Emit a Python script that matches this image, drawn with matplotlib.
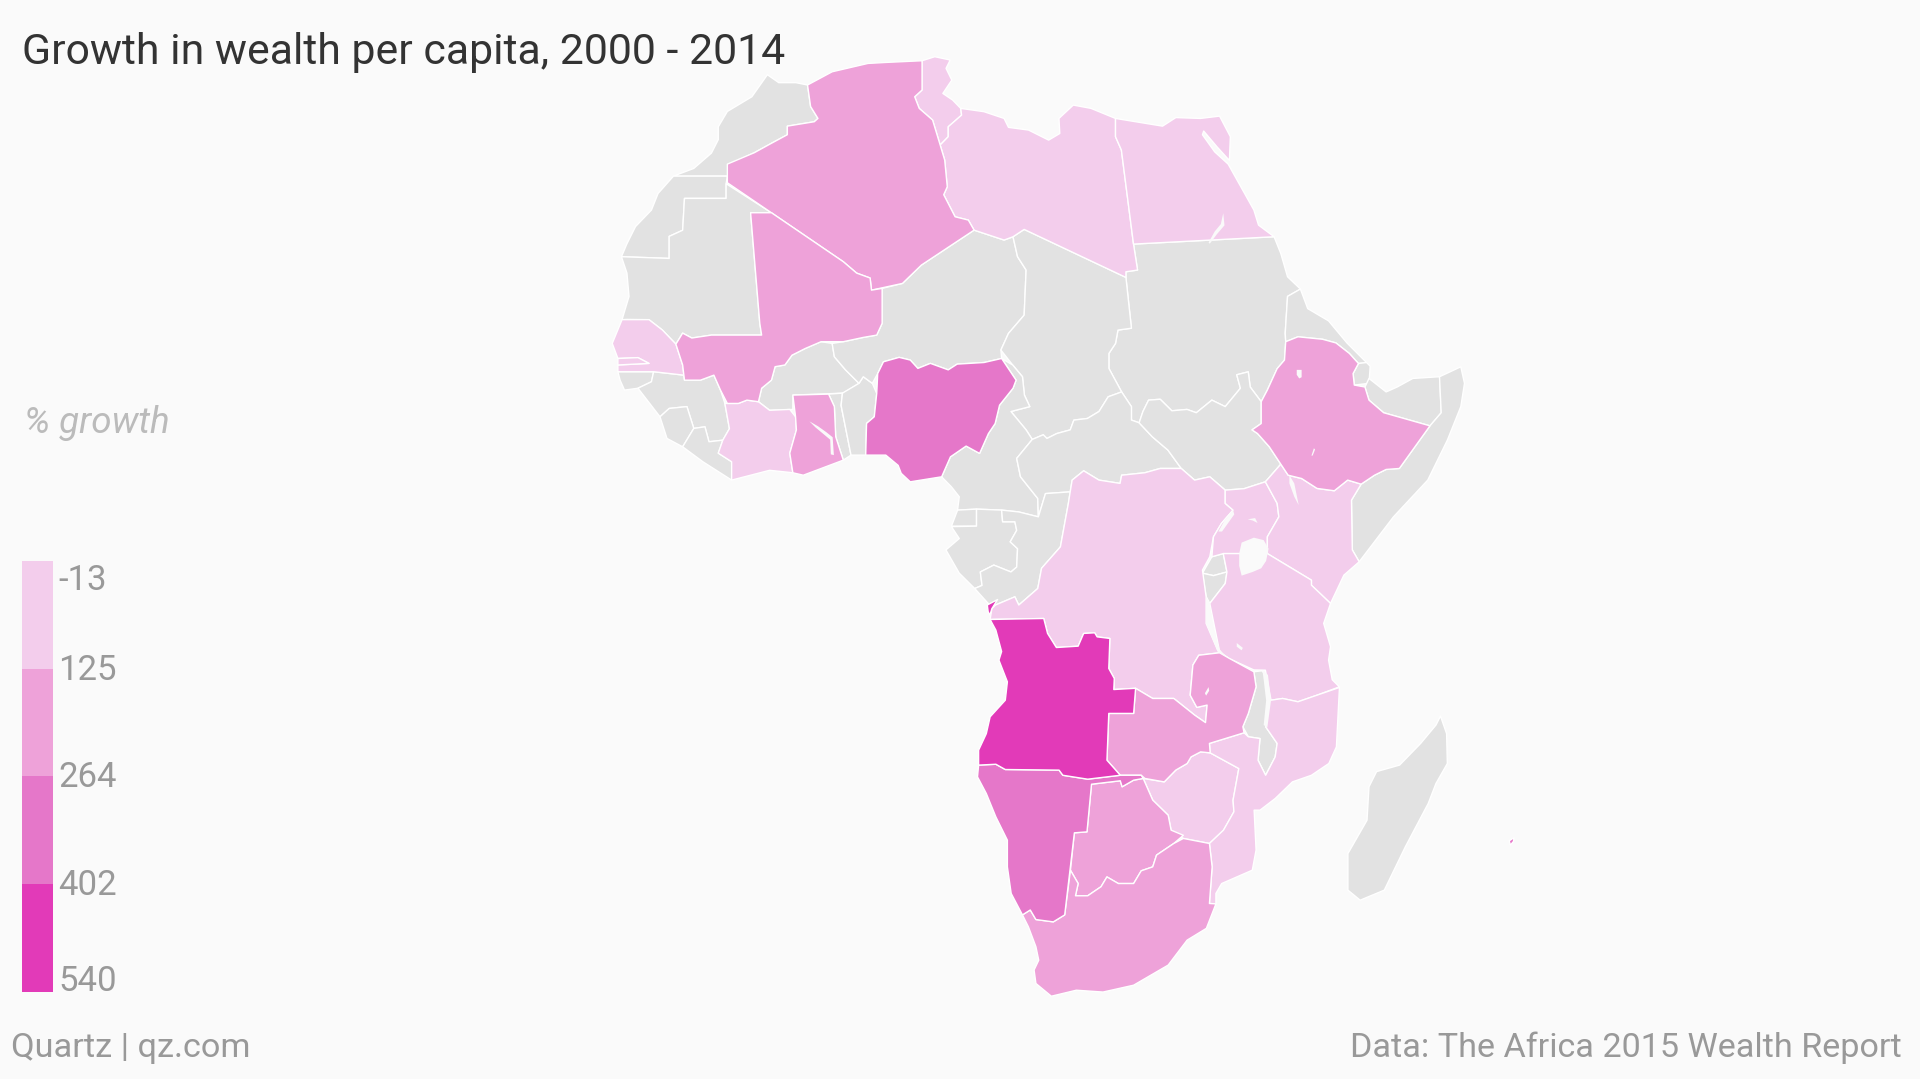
import matplotlib
matplotlib.use('Agg')
import matplotlib.pyplot as plt
from matplotlib.patches import Polygon
from matplotlib.transforms import ScaledTranslation

# outlines are in map units (y grows downward)
morocco = [(659.5,69.4),(662,87),(668,96.7),(665,99.4),(643,103),(643,110),(630,117),(616,124.7),(596,134),(594,143.8),(550,143.8),(566.6,137.5),(581,125),(586.6,114),(586.6,103.5),(594,91),(614,79),(626.7,61),(636,67.5),(650,67.5)]
western_sahara = [(550,143.8),(594,143.8),(593,150),(593,162),(559,162),(557.5,188),(546.5,193),(546.5,211),(507.5,209.6),(512,199),(519,185),(532,171.5),(537.4,158)]
mauritania = [(593,150),(630,173.7),(613,173.7),(620.5,264),(622,273.6),(581,273.6),(565,276),(557.5,272),(552,281),(541,269.5),(530,261),(512,260.8),(508,261),(513.7,242),(512,223),(507.5,209.6),(546.5,211),(546.5,193),(557.5,188),(559,162),(593,162)]
algeria = [(659.5,69.4),(679.6,58.6),(708.8,51.8),(723,51),(753,49.6),(753,73.5),(747,79),(750.7,88.5),(761.6,98),(767.8,118.4),(771.5,130.7),(773.6,152.5),(770.7,159),(780,177),(790.8,179.7),(795.5,187.9),(752.5,216.4),(737,231.4),(711.7,236.9),(710.6,227),(699.6,223),(688.7,213.7),(630,173.7),(594,149.2),(594,134),(616,124.7),(630,117),(643,110),(643,103),(665,99.4),(668,96.7),(662,87)]
mali = [(613,173.7),(630,173.7),(688.7,213.7),(699.6,223),(710.6,227),(711.7,236.9),(720.4,235.5),(720.4,264),(716,273.6),(705,275.5),(688.7,279),(670.5,279),(657.7,284.5),(646.8,290),(641,298),(633,299.4),(630,310.4),(622,317),(619.4,328),(610,326.7),(603,329.4),(594,329.4),(588.4,318.5),(583,306.3),(572,310.4),(559,310.4),(557.5,298),(552,281),(557.5,272),(565,276),(581,273.6),(622,273.6),(620.5,264)]
senegal = [(508,261),(530,261),(541,269.5),(552,281),(557.5,298),(558.5,306.3),(533.8,303.5),(504.6,303.5),(504.6,298),(530,296.7),(521,292),(504.6,292.7),(500,280.4)]
gambia = [(504.6,298),(530,296.7),(521,292),(504.6,292.7)]
guinea_bissau = [(504.6,303.5),(533.8,303.5),(532,311.7),(521,317),(510,318.5),(506.4,310.4)]
guinea = [(533.8,303.5),(558.5,306.3),(559,310.4),(572,310.4),(583,306.3),(588.4,318.5),(592,329.4),(595.7,350),(590.3,359.4),(579,360.7),(575.7,348.5),(566.6,349.8),(561,332),(546.5,333.5),(539,340.3),(521,317),(532,311.7)]
sierra_leone = [(539,340.3),(546.5,333.5),(561,332),(566.6,349.8),(557.5,364.8),(544.7,358)]
liberia = [(557.5,364.8),(566.6,349.8),(575.7,348.5),(579,360.7),(590.3,359.4),(586.6,370),(597.5,377),(597.5,392),(574,377)]
ivory_coast = [(592,329.4),(603,329.4),(610,326.7),(619.4,328),(628.5,335),(645,334.3),(649.7,340.3),(650.4,351),(645,370),(647.5,386),(628.5,384),(597.5,392),(597.5,377),(586.6,370),(590.3,359.4),(595.7,350)]
burkina_faso = [(619.4,328),(622,317),(630,310.4),(633,299.4),(641,298),(646.8,290),(657.7,284.5),(670.5,279),(679.6,280.4),(681.4,291.3),(690.5,302),(701.5,313),(688.7,321),(647.5,322.6),(647.5,334.3),(628.5,335)]
ghana = [(647.5,322.6),(676.7,321.8),(681.4,332),(682.5,356.6),(688.7,375.7),(656,388),(647.5,386),(645,370),(650.4,351),(649.7,340.3)]
togo = [(676.7,321.8),(688,321),(686.9,331),(695,371.6),(688.7,375.7),(682.5,356.6),(681.4,332)]
benin = [(688,321),(701.5,313),(705,307.6),(712.4,313),(716,321.3),(714,340.3),(707.7,345.7),(707,371.6),(695,371.6),(686.9,331)]
nigeria = [(721.5,295.4),(734.3,291.8),(743.4,294),(749.6,300.8),(759.8,296.7),(774.4,302),(781.7,297.3),(803.6,296),(818,292.7),(829.8,310.4),(827.3,317),(816.3,330.8),(812.7,345.8),(807.2,354),(800,370.2),(789,364.2),(776.2,373),(769,389.3),(743.4,393.4),(736,386.5),(733.5,380),(723.4,371.6),(707,371.6),(707.7,345.7),(714,340.3),(716,321.3),(716.8,305)]
niger = [(795.5,187.9),(820,196),(827.3,193.3),(831,209.6),(838,220.5),(836.4,257.3),(823.6,272.2),(817.4,285.8),(818,292.7),(803.6,296),(781.7,297.3),(774.4,302),(759.8,296.7),(749.6,300.8),(743.4,294),(734.3,291.8),(721.5,295.4),(716.8,305),(712.4,313),(705,307.6),(701.5,313),(690.5,302),(681.4,291.3),(679.6,280.4),(688.7,279),(705,275.5),(716,273.6),(720.4,264),(720.4,235.5),(737,231.4),(752.5,216.4)]
tunisia = [(753,49.6),(763.4,46.3),(776,49),(772.6,55.8),(777.3,65.4),(770,76.3),(778,81.7),(784.6,88.5),(785.3,94),(774.4,103.5),(774.4,111.6),(767.8,118.4),(761.6,98),(750.7,88.5),(747,79),(753,73.5)]
libya = [(784.6,88.5),(803.6,91.2),(820,96.7),(823.6,104),(840,106.2),(856.4,114.4),(865.5,109),(864.8,96.7),(876.5,85.8),(891,88.5),(911,96.7),(911,111.6),(915.8,122.5),(925.7,199.3),(929,220.5),(919.5,221.9),(919.5,226.5),(836.4,187.3),(827.3,193.3),(820,196),(795.5,187.9),(790.8,179.7),(780,177),(770.7,159),(773.6,152.5),(771.5,130.7),(767.8,118.4),(774.4,111.6),(774.4,103.5),(785.3,94)]
egypt = [(911,96.7),(949.4,103),(960.3,96),(980.4,96.7),(996,94.8),(1004.8,111.6),(1004,131),(994,120),(983,107),(982,110),(992,124),(1003,134),(1024,171.5),(1027.8,183.8),(1040.5,193.3),(925.7,199.3),(915.8,122.5),(911,111.6)]
sudan = [(925.7,199.3),(1040.5,193.3),(1046,207),(1051.5,226),(1062,236),(1051.5,242),(1049.6,272),(1050,279),(1049,294),(1043,301),(1035,318.5),(1030,328),(1021,316),(1019.4,303.6),(1010,306),(1013,317),(1000.6,332),(989.7,326.7),(977,337),(969.4,334.3),(957,335.4),(947.5,326),(938,326.7),(933.4,336),(930.3,345.2),(924,343),(924,332),(916,320),(905.6,300.8),(905.6,288.6),(911,280.4),(913,269.5),(924,268),(919.5,226.5),(919.5,221.9),(929,220.5)]
eritrea = [(1051.5,242),(1062,236),(1068,252),(1085,262),(1100,280),(1116,296),(1109.4,296.8),(1102,288.6),(1091,280),(1080,277),(1060,275),(1050,279),(1049.6,272)]
ethiopia = [(1050,279),(1060,275),(1080,277),(1091,280),(1102,288.6),(1109.4,296.8),(1105,305),(1106,314.4),(1114.7,316),(1118,326.7),(1130,337),(1167.8,347.7),(1142.8,382.5),(1132,383.3),(1122.5,388),(1111.6,395.3),(1100.6,392),(1089.7,400.7),(1075.6,398.8),(1063,390.7),(1052,388),(1046,379),(1036.6,364.8),(1027,354),(1022.5,351),(1030,345.8),(1030,328),(1035,318.5),(1043,301),(1049,294)]
djibouti = [(1105,305),(1109.4,296.8),(1116,296),(1119,299),(1118,313),(1106,314.4)]
somaliland = [(1118,309),(1132,320),(1141,316),(1153.8,309),(1175.6,307.6),(1177,337),(1167.8,347.7),(1130,337),(1118,326.7),(1114.7,316)]
somalia = [(1175.6,307.6),(1193,299.5),(1196,313),(1193,332),(1182,359.4),(1166,392),(1138,422),(1110,458.7),(1104.4,449),(1103.7,408.4),(1111.6,395.3),(1122.5,388),(1132,383.3),(1142.8,382.5),(1167.8,347.7),(1177,337)]
chad = [(836.4,187.3),(919.5,226.5),(924,268),(913,269.5),(911,280.4),(905.6,288.6),(905.6,300.8),(916,320),(905,324),(897.5,336),(888,341.7),(877,343),(874,351),(863,354),(855,358),(852,355),(843,358.8),(838,351),(825.6,336),(841,332),(836.6,322.6),(835,307.6),(827,298),(817.4,285.8),(823.6,272.2),(836.4,257.3),(838,220.5),(831,209.6),(827.3,193.3)]
cameroon = [(818,292.7),(827,298),(835,307.6),(836.6,322.6),(841,332),(825.6,336),(838,351),(843,358.8),(830.3,374.3),(833.4,389.3),(847.5,407),(848,422),(832,418),(818,416.5),(797.5,415.7),(782,416.5),(783.4,405.6),(777,397.5),(769,389.3),(776.2,373),(789,364.2),(800,370.2),(807.2,354),(812.7,345.8),(816.3,330.8),(827.3,317),(829.8,310.4)]
car = [(916,320),(924,332),(924,343),(930.3,345.2),(941,356.6),(953.8,367.5),(964.7,382.5),(947.5,382.5),(935,386),(916,388),(914.7,394.7),(897.5,392),(885,384.4),(875.6,392),(874,401.6),(853.8,403),(848,422),(847.5,407),(833.4,389.3),(830.3,374.3),(843,358.8),(852,355),(855,358),(863,354),(874,351),(877,343),(888,341.7),(897.5,336),(905,324)]
eq_guinea = [(782,416.5),(797.5,415.7),(797.5,429.6),(777,429.6)]
gabon = [(797.5,415.7),(818,416.5),(818.8,426),(828.8,426),(830.3,433),(825,442.4),(831,448),(830.3,463),(825.6,467),(811.6,461.4),(800.6,467),(802,478),(796,480.5),(783.4,468),(772.5,449),(783.4,439.7),(777,430),(797.5,429.6)]
congo = [(874,401.6),(872.5,411),(866,446.5),(850.6,464),(847.5,480.5),(832,494),(828.8,487.3),(813,494),(807,492.7),(796,480.5),(802,478),(800.6,467),(811.6,461.4),(825.6,467),(830.3,463),(831,448),(825,442.4),(830.3,433),(828.8,426),(818.8,426),(818,416.5),(832,418),(848,422),(853.8,403)]
cabinda = [(806.3,494),(814.7,489.5),(810,497),(808.4,502.3),(807,499.5)]
drc = [(1000.6,400.2),(1000.6,411),(1007,416.5),(997.5,427.4),(991,438.3),(988,454.6),(982,465.5),(985,487.3),(985,509),(994.4,530.8),(996,533),(979,535),(974.2,543),(972,567.6),(977.4,577.6),(985.8,575.7),(984.5,590),(975.8,584),(958.6,570.3),(941.4,570.3),(927.4,562),(909.6,563),(910,554),(905.5,545.8),(906.4,521.3),(896,520),(894,516.7),(885,517.2),(880.5,527.6),(862.7,528.7),(855.5,517.2),(852.4,505),(808.6,505.8),(810,497),(813,494),(828.8,487.3),(832,494),(847.5,480.5),(850.6,464),(866,446.5),(872.5,411),(874,401.6),(875.6,392),(885,384.4),(897.5,392),(914.7,394.7),(916,388),(935,386),(947.5,382.5),(964.7,382.5),(975.6,392),(988,389.3)]
south_sudan = [(938,326.7),(947.5,326),(957,335.4),(969.4,334.3),(977,337),(989.7,326.7),(1000.6,332),(1013,317),(1010,306),(1019.4,303.6),(1021,316),(1030,328),(1030,345.8),(1022.5,351),(1027,354),(1036.6,364.8),(1046,379),(1033.4,393.4),(1016,399),(1000.6,400.2),(988,389.3),(975.6,392),(964.7,382.5),(953.8,367.5),(941,356.6),(930.3,345.2),(933.4,336)]
uganda = [(1000.6,400.2),(1016,399),(1033.4,393.4),(1043,411),(1044.4,422),(1035,438.3),(1035,452),(999,452),(989.7,454.6),(991,438.3),(997.5,427.4),(1007,416.5),(1000.6,411)]
kenya = [(1033.4,393.4),(1046,379),(1052,388),(1063,390.7),(1075.6,398.8),(1089.7,400.7),(1100.6,392),(1111.6,395.3),(1103.7,408.4),(1104.4,449),(1110,458.7),(1097.5,469.6),(1086.6,492.7),(1071,477.8),(1071,473.7),(1035,452),(1035,438.3),(1044.4,422),(1043,411)]
rwanda = [(989.7,454.6),(999,452),(1002,467),(991,470),(982,468)]
burundi = [(982,468),(991,470),(1002,467),(1000.6,476.4),(988,492.7),(985,487)]
tanzania = [(1035,452),(1071,473.7),(1071,477.8),(1086.6,492.7),(1081,509),(1086.6,528),(1085,539),(1088,555),(1093.8,560.8),(1075.6,567.6),(1060,573),(1047.5,570.3),(1038,571.7),(1033.4,547.2),(1024,547),(1003.7,537.7),(996,532),(988,492.7),(1000.6,476.4),(1002,467),(999,452)]
malawi = [(1024,548.5),(1025.8,560.8),(1019.5,582.5),(1015,593.4),(1019.5,601.6),(1029,603),(1027.4,620.7),(1033.6,633),(1041.4,618),(1043,607),(1033.6,593.4),(1036.7,571.7),(1035,552.6),(1030.5,547.7)]
zambia = [(979,535),(996,533),(1004,537.6),(1024,548.5),(1025.8,560.8),(1019.5,582.5),(1015,593.4),(1016,598.3),(987.7,607),(988.3,614.7),(980.5,613.9),(972.7,618),(969.5,623.4),(960.2,628.8),(950.8,638.4),(935,635.6),(932,633),(914.9,633),(904,620.7),(905.5,582.5),(925.8,582.5),(927.4,562),(941.4,570.3),(958.6,570.3),(975.8,584),(984.5,590),(985.8,575.7),(977.4,577.6),(972,567.6),(974.2,543)]
angola = [(808.6,505.8),(852.4,505),(855.5,517.2),(862.7,528.7),(880.5,527.6),(885,517.2),(894,516.7),(896,520),(906.4,521.3),(905.5,545.8),(910,554),(909.6,563),(927.4,562),(925.8,582.5),(905.5,582.5),(904,620.7),(914.9,633),(888.3,636.2),(868,633),(864.9,628.8),(821,628.3),(813.3,624),(799.2,624.7),(799.2,612.5),(805.5,599),(808.6,585.3),(821,571.7),(822.7,556.7),(815.8,539),(818,532),(813.3,514.5)]
namibia = [(799.2,624.7),(813.3,624),(821,628.3),(864.9,628.8),(868,633),(888.3,636.2),(914.9,633),(932,633),(933.6,635.6),(925.8,637),(916.4,642.4),(914.9,637.5),(891.4,640.3),(887.7,679.2),(877.4,680),(869.5,747),(860.2,752.7),(846,750.8),(841.4,743),(835,747),(825.8,729.5),(822.7,707.8),(822.7,686),(813.3,667),(805.5,647.9),(798.3,634.3)]
botswana = [(891.4,640.3),(914.9,637.5),(916.4,642.4),(925.8,637),(933.6,635.6),(941.4,653.3),(954,665.6),(956.4,677.8),(966.4,682),(958.6,688.7),(944.5,698.2),(941.4,707.8),(932,711),(925.8,721.4),(913.3,721.4),(904,716),(899.2,724),(888.3,731.4),(878.3,731.4),(880.5,721.4),(874.2,710.5),(877.4,680),(887.7,679.2)]
zimbabwe = [(933.6,635.6),(950.8,638.4),(960.2,628.8),(969.5,623.4),(972.7,618),(980.5,613.9),(988.3,614.7),(1011.7,627.5),(1007,653.3),(1007.7,662.8),(999.2,677.8),(987.7,688.7),(966.4,684.6),(956.4,677.8),(954,665.6),(941.4,653.3)]
mozambique = [(1093.9,561.3),(1091.4,609.8),(1085.2,623.4),(1071,633),(1055.5,638.4),(1041.4,652),(1029,661.5),(1024.2,661.5),(1025.8,694),(1022.7,710.5),(997.7,721.4),(993,729.5),(993,738),(987.7,737.7),(989.9,707.8),(987.7,688.7),(999.2,677.8),(1007.7,662.8),(1007,653.3),(1011.7,627.5),(988.3,614.7),(987.7,607),(1016,598.3),(1019.5,601.6),(1029,603),(1027.4,620.7),(1033.6,633),(1041.4,618),(1043,607),(1033.6,593.4),(1036.7,571.7),(1038,571.7),(1047.5,570.3),(1060,573),(1075.6,567.6)]
south_africa = [(835,747),(841.4,743),(846,750.8),(860.2,752.7),(869.5,747),(874.2,710.5),(880.5,721.4),(878.3,731.4),(888.3,731.4),(899.2,724),(904,716),(913.3,721.4),(925.8,721.4),(932,711),(941.4,707.8),(944.5,698.2),(958.6,688.7),(966.4,684.6),(987.7,688.7),(989.9,707.8),(987.7,737.7),(993,738),(985.2,758),(969.5,767.6),(954,788),(925.8,804.4),(900.8,810),(879,808.5),(858.6,813.4),(846,803),(844.5,792),(848.3,784),(846,773),(839.9,756.8)]
lesotho = [(933.6,765),(949.2,754),(956.4,762.2),(950.8,770.4),(938.3,775.8)]
swaziland = [(974.2,735),(980.5,725.5),(987.7,729.5),(984.6,741.8),(975.8,741.8)]
madagascar = [(1176.4,584.7),(1181.4,599),(1182,623.4),(1172.7,639.7),(1166.4,656),(1147.7,691.4),(1130.5,726.8),(1110.8,735),(1100.8,726.8),(1100.8,696.9),(1116.4,669.7),(1118,642.4),(1124.2,630),(1143,624.7),(1160.2,607),(1172.7,592)]
mauritius = [(1232.5,686.5),(1236.5,684),(1236,687),(1233.5,690)]

# lakes show the page colour through the countries
victoria = [(1012,452),(1014,443),(1024,439),(1032,441),(1036,448),(1034,458),(1030,464),(1023,467),(1014,470),(1012,462)]
tanganyika = [(985,487),(988,492.7),(990,510),(996,530),(1001,536),(994.4,532),(985,509)]
malawi_lake = [(1031,547.7),(1035.5,551),(1038,572),(1035,594),(1032,592),(1034,572),(1032,555)]
albert = [(1007,416.5),(1008,420),(998,434),(995,434),(1000,425)]
turkana = [(1053,388),(1057,394.7),(1060.6,412.4),(1057,405.6),(1053,394.7)]
tana = [(1059,302),(1063,302),(1063,308),(1061,309),(1059,306)]
bangweulu = [(984,566),(987,561),(987.5,564),(985,568)]
rukwa = [(1010,525),(1015,529),(1014,531),(1010,528)]
nasser = [(999,174),(1000,184),(994,191),(988,199),(987,198),(992,189),(997,183)]
volta = [(661,344),(668,348),(675,353),(680,357),(681,371.6),(678.5,371),(678,359),(672,354),(666,349)]
kyoga = [(1019,424),(1025,423),(1027,427),(1023,425)]
abaya = [(1071,372),(1073,366),(1074,367),(1072,372)]

# countries by colour bin, the gray ones have no data
gray_countries = [morocco, western_sahara, mauritania, guinea_bissau, guinea, sierra_leone, liberia, burkina_faso, togo, benin, niger, sudan, eritrea, djibouti, somaliland, somalia, chad, cameroon, car, eq_guinea, gabon, congo, south_sudan, rwanda, burundi, malawi, lesotho, swaziland, madagascar]
bin0_countries = [senegal, gambia, ivory_coast, tunisia, libya, egypt, drc, uganda, kenya, tanzania, zimbabwe, mozambique]
bin1_countries = [algeria, mali, ghana, ethiopia, zambia, botswana, south_africa]
bin2_countries = [nigeria, namibia, mauritius]
bin3_countries = [angola, cabinda]
lakes = [victoria, tanganyika, malawi_lake, albert, turkana, tana, bangweulu, rukwa, nasser, volta, kyoga, abaya]

legend_labels = ['-13', '125', '264', '402', '540']
bin_colors = ['#f3cdec', '#eea2d9', '#e577c9', '#e23ab8']

bg = '#fafafa'
plt.rcParams['font.family'] = ['Roboto', 'DejaVu Sans']

fig = plt.figure(figsize=(19.2, 10.79), dpi=100, facecolor=bg)
ax = fig.add_axes([0, 0, 1, 1])
ax.set_xlim(0, 1568)
ax.set_ylim(881, 0)
ax.axis('off')

groups = [(gray_countries, '#e2e2e2'), (bin0_countries, bin_colors[0]), (bin1_countries, bin_colors[1]),
          (bin2_countries, bin_colors[2]), (bin3_countries, bin_colors[3])]
for countries, color in groups:
    for outline in countries:
        ax.add_patch(Polygon(outline, closed=True, facecolor=color, edgecolor='#ffffff', linewidth=1.0, joinstyle='round'))
for outline in lakes:
    ax.add_patch(Polygon(outline, closed=True, facecolor=bg, edgecolor='none', zorder=3))

# legend is a small stacked bar, ticks carry the labels
leg = fig.add_axes([22/1920, 1 - 992/1079, 31/1920, 431/1079])
leg.patch.set_alpha(0)
for i, color in enumerate(bin_colors):
    leg.bar(0, 1, bottom=i, width=1, color=color)
leg.set_xlim(-0.5, 0.5)
leg.set_ylim(4, 0)
for s in leg.spines.values():
    s.set_visible(False)
leg.set_xticks([])
leg.yaxis.tick_right()
leg.set_yticks(range(5))
leg.set_yticklabels(legend_labels, fontsize=25, color='#999999')
leg.tick_params(axis='y', length=0, pad=5)
ticklabs = leg.get_yticklabels()
ticklabs[0].set_va('top')
ticklabs[-1].set_va('bottom')
# nudge labels, in points, to sit where the reference has them
label_nudges = [-2, 1.5, 1.5, 1.5, -4]
for lab, dy in zip(ticklabs, label_nudges):
    lab.set_transform(lab.get_transform() + ScaledTranslation(-1/72, dy/72, fig.dpi_scale_trans))

fig.text(22/1920, 1 - 52.5/1079, 'Growth in wealth per capita, 2000 - 2014', fontsize=30.8, color='#333333', va='center', ha='left')
fig.text(24/1920, 1 - 423/1079, '% growth', fontsize=26.5, style='italic', color='#bbbbbb', va='center', ha='left')
fig.text(11/1920, 1 - 1047.5/1079, 'Quartz | qz.com', fontsize=24.7, color='#999999', va='center', ha='left')
fig.text(1902/1920, 1 - 1047.5/1079, 'Data: The Africa 2015 Wealth Report', fontsize=24.6, color='#999999', va='center', ha='right')

fig.savefig('out.png', dpi=100, facecolor=bg)
